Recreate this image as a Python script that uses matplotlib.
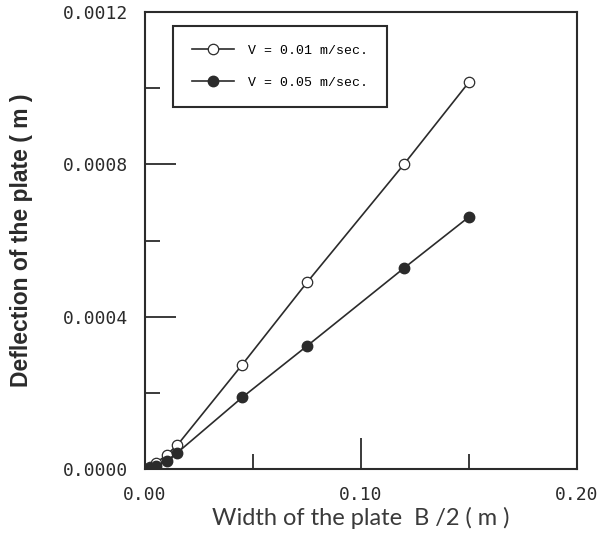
import matplotlib
matplotlib.use("Agg")
import matplotlib.pyplot as plt
from matplotlib.ticker import MultipleLocator

# half width of the plate B/2 (m)
width = [0.0, 0.0025, 0.005, 0.010, 0.015, 0.045, 0.075, 0.120, 0.150]
# deflection (m)
defl_v001 = [0.0, 0.000006, 0.000015, 0.000037, 0.000063, 0.000274, 0.000490, 0.000801, 0.001016]
defl_v005 = [0.0, 0.000003, 0.000008, 0.000021, 0.000043, 0.000188, 0.000323, 0.000528, 0.000662]

INK = "#2b2b2b"

fig = plt.figure(figsize=(6.08, 5.36), dpi=100)
fig.patch.set_facecolor("white")
ax = fig.add_axes([0.2385, 0.125, 0.7105, 0.8526])

ax.plot(width, defl_v001, "-o", color=INK, lw=1.2, ms=7.5,
        mfc="white", mec=INK, mew=0.9, label="V = 0.01 m/sec.")
ax.plot(width, defl_v005, "-o", color=INK, lw=1.2, ms=7.5,
        mfc=INK, mec=INK, label="V = 0.05 m/sec.")

ax.set_xlim(0, 0.20)
ax.set_ylim(0, 0.0012)
ax.xaxis.set_major_locator(MultipleLocator(0.10))
ax.xaxis.set_minor_locator(MultipleLocator(0.05))
ax.yaxis.set_major_locator(MultipleLocator(0.0004))
ax.yaxis.set_minor_locator(MultipleLocator(0.0002))
ax.xaxis.set_major_formatter(lambda v, p: f"{v:.2f}")
ax.yaxis.set_major_formatter(lambda v, p: f"{v:.4f}")

for sp in ax.spines.values():
    sp.set_linewidth(1.5)
    sp.set_color(INK)
ax.tick_params(which="both", direction="in", color=INK, top=False, right=False)
ax.tick_params(which="major", length=22, width=1.3, pad=12)
ax.tick_params(which="minor", length=11, width=1.3)
for lab in ax.get_xticklabels() + ax.get_yticklabels():
    lab.set_family("DejaVu Sans Mono")
    lab.set_fontsize(13)
    lab.set_color(INK)

ax.set_xlabel("Width of the plate  B /2 ( m )", family=["Lato", "DejaVu Sans"],
              fontsize=17, color="#3a3a3a", labelpad=2)
ax.set_ylabel("Deflection of the plate ( m )", family=["Liberation Sans"],
              fontweight="bold", fontsize=16.5, color=INK, labelpad=22)

leg = ax.legend(loc="upper left", bbox_to_anchor=(0.065, 0.969), borderaxespad=0,
                prop={"family": "Liberation Mono", "size": 9.5},
                frameon=True, fancybox=False, edgecolor=INK, framealpha=1,
                borderpad=1.4, labelspacing=1.5, handlelength=3.2, handletextpad=1.1)
leg.get_frame().set_linewidth(1.5)

fig.savefig("out.png", dpi=100, facecolor="white")
